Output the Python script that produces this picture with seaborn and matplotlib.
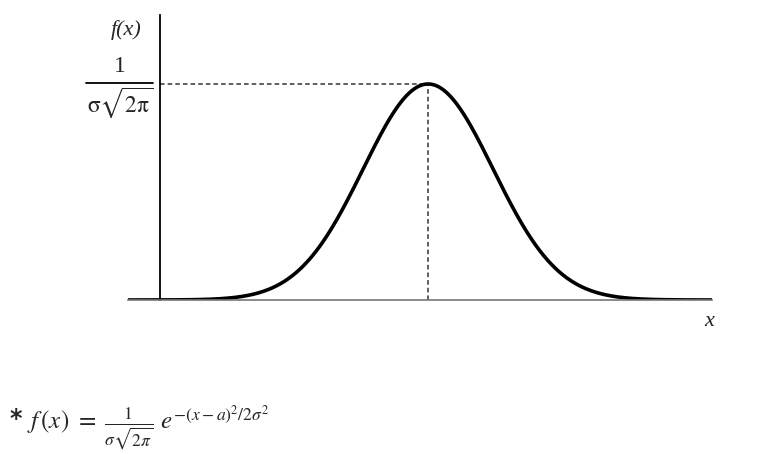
import numpy as np
import pandas as pd
import matplotlib
matplotlib.use("Agg")
import matplotlib.pyplot as plt
import seaborn as sns

# parametros de la curva normal (en unidades de sigma)
a = 0.0
sigma = 1.0
x_min, x_max = -4.62, 4.37
y_axis_at = -4.12

xs = np.linspace(x_min, x_max, 600)
ys = 1 / (sigma * np.sqrt(2 * np.pi)) * np.exp(-(xs - a) ** 2 / (2 * sigma ** 2))
peak = 1 / (sigma * np.sqrt(2 * np.pi))
df = pd.DataFrame({"x": xs, "f": ys})

sns.set_style("white")
plt.rcParams["mathtext.fontset"] = "stix"
plt.rcParams["font.family"] = ["Liberation Serif", "DejaVu Serif"]

fig = plt.figure(figsize=(7.64, 4.54), dpi=100)
W, H = 764, 454
# ejes: pixel x 128..712, y 15..300
ax = fig.add_axes([128 / W, 1 - 300 / H, (712 - 128) / W, (300 - 15) / H])
ax.set_xlim(x_min, x_max)
ax.set_ylim(0, peak * 285 / 216)

# lineas punteadas hacia el maximo
ax.plot([y_axis_at, a], [peak, peak], color="#333333", lw=1.1, ls=(0, (3, 2)))
ax.plot([a, a], [0, peak], color="#333333", lw=1.1, ls=(0, (3, 2)))

sns.lineplot(data=df, x="x", y="f", color="black", linewidth=2.6, ax=ax)

# ejes estilo libro
ax.spines["top"].set_visible(False)
ax.spines["right"].set_visible(False)
ax.spines["left"].set_position(("data", y_axis_at))
ax.spines["left"].set_color("black")
ax.spines["left"].set_linewidth(1.3)
ax.spines["bottom"].set_color("#777777")
ax.spines["bottom"].set_linewidth(1.2)
ax.set_xticks([])
ax.set_yticks([])
ax.set_xlabel("")
ax.set_ylabel("")
ax.patch.set_alpha(0)

# etiquetas
fig.text(126 / W, 1 - 30 / H, "f(x)", style="italic", fontsize=16,
         ha="center", va="center")
fig.text(120 / W, 1 - 67 / H, "1", fontsize=17, ha="center", va="center")
fig.add_artist(plt.Line2D([86 / W, 153 / W], [1 - 83 / H, 1 - 83 / H],
                          color="black", lw=1.3))
fig.text(120 / W, 1 - 103 / H, r"$\mathrm{\sigma}\sqrt{2\mathrm{\pi}}$",
         fontsize=17, ha="center", va="center")
fig.text(709 / W, 1 - 322 / H, "x", style="italic", fontsize=16,
         ha="center", va="center")

# formula
fig.text(9 / W, 1 - 419 / H, "*", fontsize=17, family="DejaVu Sans",
         weight="bold", ha="left", va="center")
fig.text(27 / W, 1 - 428 / H,
         r"$f\,(x)\ =\ \frac{1}{\sigma\sqrt{2\pi}}\ e^{-(x-a)^2/2\sigma^2}$",
         fontsize=18, ha="left", va="center")

fig.savefig("out.png", dpi=100)
